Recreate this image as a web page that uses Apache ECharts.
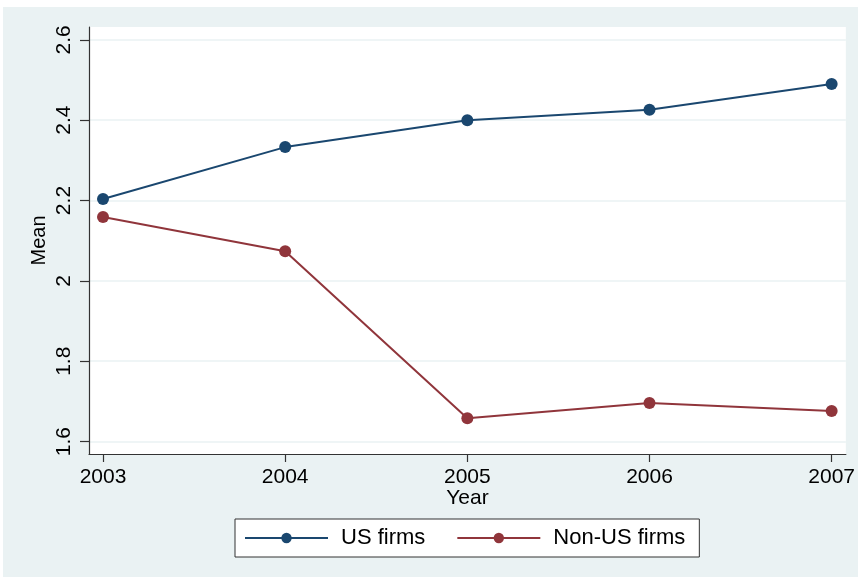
<!DOCTYPE html>
<html>
<head>
<meta charset="utf-8">
<script src="https://cdn.jsdelivr.net/npm/echarts@6/dist/echarts.min.js"></script>
<style>
html,body{margin:0;padding:0;background:#fff;width:858px;height:577px;overflow:hidden;}
#chart{position:absolute;left:3px;top:7px;width:855px;height:570px;}
</style>
</head>
<body>
<div id="chart"></div>
<script>
const years = [2003, 2004, 2005, 2006, 2007];
const usFirms = [2.204, 2.333, 2.400, 2.426, 2.490];
const nonUsFirms = [2.159, 2.074, 1.658, 1.696, 1.676];
const yTicks = [1.6, 1.8, 2.0, 2.2, 2.4, 2.6];
const seriesNames = ['US firms', 'Non-US firms'];

const font = 'Liberation Sans, Arial, sans-serif';
const chart = echarts.init(document.getElementById('chart'));
chart.setOption({
  backgroundColor: '#EAF2F3',
  animation: false,
  grid: {left: 86, top: 20, right: 12, bottom: 123, show: true, backgroundColor: '#ffffff', borderWidth: 0},
  xAxis: {
    type: 'value', min: 2002.923, max: 2007.078,
    name: 'Year', nameLocation: 'middle', nameGap: 34, nameMoveOverlap: false,
    nameTextStyle: {fontFamily: font, fontSize: 21, color: '#000'},
    axisLine: {show: true, lineStyle: {color: '#333', width: 1.2}},
    axisTick: {show: true, length: 8, customValues: years, lineStyle: {color: '#333', width: 1.2}},
    axisLabel: {customValues: years, fontFamily: font, fontSize: 21, color: '#000', margin: 13, formatter: v => String(Math.round(v))},
    splitLine: {show: false}
  },
  yAxis: {
    type: 'value', min: 1.569, max: 2.632,
    name: 'Mean', nameLocation: 'middle', nameGap: 40, nameMoveOverlap: false,
    nameTextStyle: {fontFamily: font, fontSize: 20, color: '#000'},
    axisLine: {show: true, lineStyle: {color: '#333', width: 1.2}},
    axisTick: {show: true, length: 9, customValues: yTicks, lineStyle: {color: '#333', width: 1.2}},
    axisLabel: {customValues: yTicks, rotate: 90, fontFamily: font, fontSize: 21, color: '#000', margin: 14,
      formatter: v => { const r = Math.round(v * 10) / 10; return r === 2 ? '2' : r.toFixed(1); }},
    splitLine: {show: true, lineStyle: {color: '#EAF2F3', width: 1.5}}
  },
  legend: {
    left: 232, top: 512,
    data: seriesNames,
    orient: 'horizontal',
    backgroundColor: '#ffffff', borderColor: '#333', borderWidth: 1, borderRadius: 0,
    padding: [8, 14, 8, 9],
    itemWidth: 83, itemHeight: 13, itemGap: 31,
    textStyle: {fontFamily: font, fontSize: 22, color: '#000', padding: [0, 0, 0, 8]}
  },
  series: [
    {name: seriesNames[0], type: 'line', data: years.map((y, i) => [y, usFirms[i]]),
     symbol: 'circle', symbolSize: 12, itemStyle: {color: '#1A476F'}, lineStyle: {color: '#1A476F', width: 2}},
    {name: seriesNames[1], type: 'line', data: years.map((y, i) => [y, nonUsFirms[i]]),
     symbol: 'circle', symbolSize: 12, itemStyle: {color: '#90353B'}, lineStyle: {color: '#90353B', width: 2}}
  ]
});
</script>
</body>
</html>
